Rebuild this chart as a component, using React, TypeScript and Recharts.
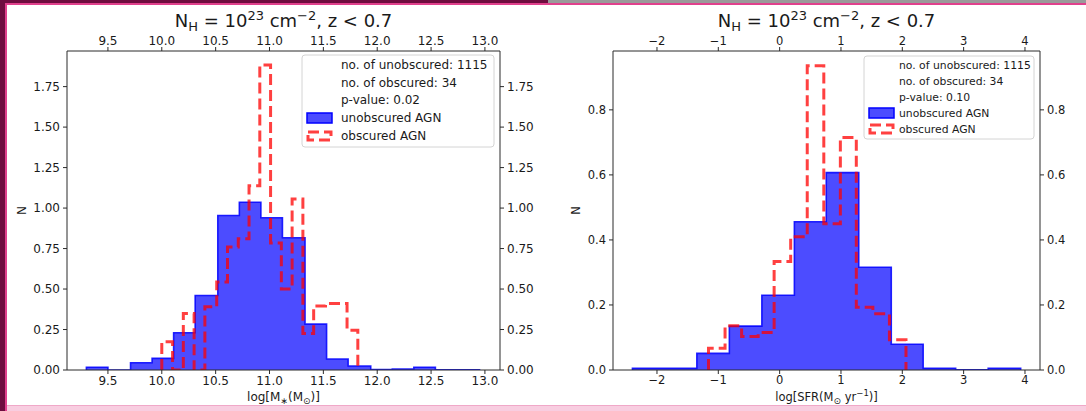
import React from 'react';
import { ComposedChart, Area, Line, XAxis, YAxis } from 'recharts';

// ---- Left panel: stellar mass histogram ----
const massUnobsEdges = [9.30, 9.50, 9.71, 9.91, 10.11, 10.31, 10.52, 10.72, 10.92, 11.12, 11.33, 11.53, 11.73, 11.94, 12.14, 12.34, 12.54, 12.75, 12.95];
const massUnobsN = [0.017, 0.0, 0.045, 0.072, 0.23, 0.46, 0.954, 1.036, 0.94, 0.817, 0.283, 0.068, 0.025, 0.003, 0.006, 0.017, 0.002, 0.002];
const massObsEdges = [10.00, 10.10, 10.20, 10.30, 10.40, 10.51, 10.61, 10.71, 10.81, 10.91, 11.01, 11.11, 11.21, 11.31, 11.41, 11.52, 11.62, 11.72, 11.82];
const massObsN = [0.174, 0.0, 0.349, 0.0, 0.39, 0.543, 0.759, 0.81, 1.138, 1.883, 0.785, 0.5, 1.056, 0.225, 0.395, 0.41, 0.41, 0.246];
const massXTicks = [9.5, 10.0, 10.5, 11.0, 11.5, 12.0, 12.5, 13.0];
const massYTicks = [0, 0.25, 0.5, 0.75, 1.0, 1.25, 1.5, 1.75];
const massLegendText = ['no. of unobscured: 1115', 'no. of obscured: 34', 'p-value: 0.02'];

// ---- Right panel: SFR histogram ----
const sfrUnobsEdges = [-2.40, -1.87, -1.35, -0.82, -0.29, 0.24, 0.76, 1.29, 1.82, 2.34, 2.87, 3.40, 3.93];
const sfrUnobsN = [0.005, 0.005, 0.051, 0.135, 0.23, 0.456, 0.607, 0.316, 0.079, 0.005, 0.001, 0.005];
const sfrObsEdges = [-1.16, -0.89, -0.62, -0.35, -0.09, 0.18, 0.45, 0.72, 0.99, 1.25, 1.52, 1.79, 2.06];
const sfrObsN = [0.067, 0.136, 0.103, 0.115, 0.334, 0.41, 0.936, 0.45, 0.715, 0.193, 0.173, 0.093];
const sfrXTicks = [-2, -1, 0, 1, 2, 3, 4];
const sfrYTicks = [0, 0.2, 0.4, 0.6, 0.8];
const sfrLegendText = ['no. of unobscured: 1115', 'no. of obscured: 34', 'p-value: 0.10'];

const seriesNames = ['unobscured AGN', 'obscured AGN'];

const FONT = '"DejaVu Sans", Verdana, sans-serif';
const BLUE = '#0000ff';
const RED = '#ff0000';
const TXT = '#1a1a1a';
const AX = '#2a2a2a';

function stepOutline(edges: number[], values: number[]) {
  const pts: { x: number; y: number }[] = [{ x: edges[0], y: 0 }];
  values.forEach((v, i) => {
    pts.push({ x: edges[i], y: v });
    pts.push({ x: edges[i + 1], y: v });
  });
  pts.push({ x: edges[edges.length - 1], y: 0 });
  return pts;
}

function buildRows(ue: number[], uv: number[], oe: number[], ov: number[]) {
  const u = stepOutline(ue, uv).map((p) => ({ x: p.x, unobs: p.y }));
  const o = stepOutline(oe, ov).map((p) => ({ x: p.x, obs: p.y }));
  return [...u, ...o];
}

const minus = (s: string) => s.replace('-', '\u2212');

type PanelProps = {
  left: number;
  width: number;
  margin: { top: number; right: number; bottom: number; left: number };
  rows: any[];
  xDomain: [number, number];
  yDomain: [number, number];
  xTicks: number[];
  yTicks: number[];
  xFmt: (v: number) => string;
  yFmt: (v: number) => string;
  fontSize: number;
};

function Panel(p: PanelProps) {
  const tick = { fill: TXT, fontSize: p.fontSize, fontFamily: FONT };
  const line = { stroke: AX, strokeWidth: 1 };
  return (
    <div style={{ position: 'absolute', left: p.left, top: 0 }}>
      <ComposedChart width={p.width} height={411} data={p.rows} margin={p.margin}>
        <XAxis xAxisId="bottom" dataKey="x" type="number" domain={p.xDomain} allowDataOverflow ticks={p.xTicks}
          tickFormatter={p.xFmt} tick={tick} tickLine={line} axisLine={line} tickSize={4} tickMargin={2} height={25} interval={0} />
        <XAxis xAxisId="top" orientation="top" dataKey="x" type="number" domain={p.xDomain} allowDataOverflow ticks={p.xTicks}
          tickFormatter={p.xFmt} tick={tick} tickLine={line} axisLine={line} tickSize={4} tickMargin={2} height={25} interval={0} />
        <YAxis yAxisId="left" type="number" domain={p.yDomain} allowDataOverflow ticks={p.yTicks}
          tickFormatter={p.yFmt} tick={tick} tickLine={line} axisLine={line} tickSize={4} tickMargin={3} width={40} interval={0} />
        <YAxis yAxisId="right" orientation="right" type="number" domain={p.yDomain} allowDataOverflow ticks={p.yTicks}
          tickFormatter={p.yFmt} tick={tick} tickLine={line} axisLine={line} tickSize={4} tickMargin={3} width={40} interval={0} />
        <Area xAxisId="bottom" yAxisId="left" dataKey="unobs" type="linear" connectNulls
          fill={BLUE} fillOpacity={0.7} stroke={BLUE} strokeWidth={1.6} strokeOpacity={0.85}
          isAnimationActive={false} dot={false} activeDot={false} />
        <Line xAxisId="top" yAxisId="right" dataKey="obs" type="linear" connectNulls
          stroke={RED} strokeOpacity={0.75} strokeWidth={3} strokeDasharray="11 5" strokeLinecap="butt"
          strokeLinejoin="miter" isAnimationActive={false} dot={false} activeDot={false} />
      </ComposedChart>
    </div>
  );
}

function Legend({ x, y, w, h, textX, lineYs, fontSize, lines }: any) {
  const hx = x + 5;
  return (
    <g>
      <rect x={x} y={y} width={w} height={h} rx={3} ry={3} fill="#ffffff" fillOpacity={0.8} stroke="#d4d4d4" strokeWidth={1} />
      {lines.map((t: string, i: number) => (
        <text key={i} x={textX} y={lineYs[i] + fontSize * 0.36} fontSize={fontSize} fill={TXT} fontFamily={FONT}>{t}</text>
      ))}
      <rect x={hx} y={lineYs[3] - 5} width={25} height={10} fill={BLUE} fillOpacity={0.7} stroke={BLUE} strokeWidth={1.5} />
      <text x={textX} y={lineYs[3] + fontSize * 0.36} fontSize={fontSize} fill={TXT} fontFamily={FONT}>{seriesNames[0]}</text>
      <rect x={hx + 1} y={lineYs[4] - 4} width={23} height={8} fill="none" stroke={RED} strokeOpacity={0.75} strokeWidth={3} strokeDasharray="11 5" />
      <text x={textX} y={lineYs[4] + fontSize * 0.36} fontSize={fontSize} fill={TXT} fontFamily={FONT}>{seriesNames[1]}</text>
    </g>
  );
}

function Title({ cx }: { cx: number }) {
  return (
    <text x={cx} y={26.5} textAnchor="middle" fontSize={18} fill={TXT} fontFamily={FONT}>
      N<tspan dy={4} fontSize={13}>H</tspan>
      <tspan dy={-4}> = 10</tspan>
      <tspan dy={-7} fontSize={13}>23</tspan>
      <tspan dy={7}> cm</tspan>
      <tspan dy={-7} fontSize={13}>{'\u22122'}</tspan>
      <tspan dy={7}>, z &lt; 0.7</tspan>
    </text>
  );
}

export default function App() {
  const massRows = buildRows(massUnobsEdges, massUnobsN, massObsEdges, massObsN);
  const sfrRows = buildRows(sfrUnobsEdges, sfrUnobsN, sfrObsEdges, sfrObsN);
  return (
    <div style={{ position: 'absolute', left: 0, top: 0, width: 1086, height: 411, background: '#ffffff', overflow: 'hidden', fontFamily: FONT }}>
      <Panel left={0} width={545} margin={{ top: 26, right: 5, bottom: 16, left: 27 }} rows={massRows}
        xDomain={[9.12, 13.14]} yDomain={[0, 1.97]} xTicks={massXTicks} yTicks={massYTicks}
        xFmt={(v) => v.toFixed(1)} yFmt={(v) => v.toFixed(2)} fontSize={12} />
      <Panel left={545} width={541} margin={{ top: 26, right: 6, bottom: 16, left: 28 }} rows={sfrRows}
        xDomain={[-2.717, 4.245]} yDomain={[0, 0.981]} xTicks={sfrXTicks} yTicks={sfrYTicks}
        xFmt={(v) => minus(String(v))} yFmt={(v) => v.toFixed(1)} fontSize={11.5} />
      <svg width={1086} height={411} style={{ position: 'absolute', left: 0, top: 0, pointerEvents: 'none' }}>
        <Title cx={283.5} />
        <Title cx={826.5} />
        <Legend x={302} y={55} w={192} h={92} textX={341} lineYs={[65, 82.5, 100, 118, 136]} fontSize={12} lines={massLegendText} />
        <Legend x={864} y={56} w={170} h={83} textX={899} lineYs={[65, 81, 97, 113, 129]} fontSize={10.8} lines={sfrLegendText} />
        <text x={22} y={210.5} textAnchor="middle" fontSize={12} fill={TXT} fontFamily={FONT} transform="rotate(-90 22 210.5)" dominantBaseline="middle">N</text>
        <text x={576} y={210.5} textAnchor="middle" fontSize={11.5} fill={TXT} fontFamily={FONT} transform="rotate(-90 576 210.5)" dominantBaseline="middle">N</text>
        <text x={283.5} y={401} textAnchor="middle" fontSize={12} fill={TXT} fontFamily={FONT}>
          log[M<tspan dy={3} fontSize={9}>{'\u2217'}</tspan><tspan dy={-3}>(M</tspan><tspan dy={3} fontSize={9}>{'\u2299'}</tspan><tspan dy={-3}>)]</tspan>
        </text>
        <text x={826.5} y={401} textAnchor="middle" fontSize={11.5} fill={TXT} fontFamily={FONT}>
          log[SFR(M<tspan dy={3} fontSize={9}>{'\u2299'}</tspan><tspan dy={-3}> yr</tspan><tspan dy={-5} fontSize={8.5}>{'\u22121'}</tspan><tspan dy={5}>)]</tspan>
        </text>
      </svg>
      {/* frame */}
      <div style={{ position: 'absolute', left: 0, top: 0, width: 548, height: 3, background: '#6e0d3f' }} />
      <div style={{ position: 'absolute', left: 548, top: 0, width: 538, height: 3, background: '#9a9a9a' }} />
      <div style={{ position: 'absolute', left: 0, top: 3, width: 1086, height: 2, background: '#e0408c' }} />
      <div style={{ position: 'absolute', left: 0, top: 0, width: 5, height: 411, background: '#6e0d3f' }} />
      <div style={{ position: 'absolute', left: 5, top: 3, width: 2, height: 408, background: '#e0408c' }} />
      <div style={{ position: 'absolute', left: 7, top: 405, width: 1079, height: 6, background: '#f8cde0' }} />
      <div style={{ position: 'absolute', left: 7, top: 405, width: 1079, height: 1, background: '#f0a8c8' }} />
    </div>
  );
}
